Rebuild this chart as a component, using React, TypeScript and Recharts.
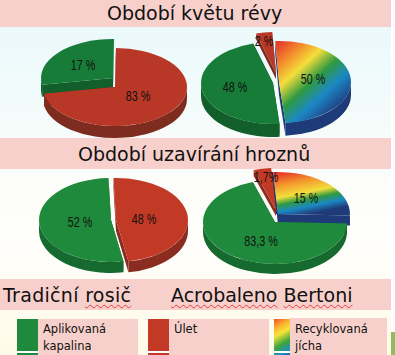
import React from "react";
import { PieChart, Pie } from "recharts";

// Printed labels, as they read in the picture.
const bloomTraditionalLabels = ["17 %", "83 %"];
const bloomBertoniLabels = ["50 %", "48 %", "2 %"];
const closureTraditionalLabels = ["48 %", "52 %"];
const closureBertoniLabels = ["15 %", "83,3 %", "1,7%"];

// The source artwork does not draw its slices to the printed numbers, so the
// slice sizes below are the shares as measured on the picture (in %).
const bloomTraditionalDrawn = [28, 72];
const bloomBertoniDrawn = [49.4, 47, 3.6];
const closureTraditionalDrawn = [47.8, 52.2];
const closureBertoniDrawn = [26.7, 69.4, 3.9];

const sliceNames = { green: "Aplikovaná kapalina", red: "Úlet", rainbow: "Recyklovaná jícha" };
const titles = ["Období květu révy", "Období uzavírání hroznů"];
const legendItems = ["Aplikovaná", "kapalina", "Úlet", "Recyklovaná", "jícha"];

const GREEN_A = "#177c38", GREEN_A_WALL = "#135f2c";
const GREEN_B = "#1f8a3c", GREEN_B_WALL = "#166a30";
const RED_A = "#b93726", RED_A_WALL = "#7f2c20";
const RED_B = "#c23a26", RED_B_WALL = "#8a2d20";
const NAVY_WALL = "#1f3a78";
const BAND = "#f8d0cb";
const LABEL_FONT = "'Liberation Sans',sans-serif";

type Style = { fill: string; wall: string; dx: number; dy: number; lx: number; ly: number; edge?: number; depth?: number };

const pies: { key: string; labels: string[]; drawn: number[]; kinds: string[]; cx: number; cy: number; start: number; depth: number; ry: number; styles: Style[] }[] = [
  {
    key: "a", labels: bloomTraditionalLabels, drawn: bloomTraditionalDrawn, kinds: ["green", "red"],
    cx: 115, cy: 87, start: 190, depth: 12, ry: 39,
    styles: [
      { fill: GREEN_A, wall: GREEN_A_WALL, dx: -2, dy: -9, lx: -30, ly: -13 },
      { fill: RED_A, wall: RED_A_WALL, dx: 0, dy: 0, lx: 23, ly: 9 },
    ],
  },
  {
    key: "b", labels: bloomBertoniLabels, drawn: bloomBertoniDrawn, kinds: ["rainbow", "green", "red"],
    cx: 275, cy: 82, start: 93, depth: 13, ry: 41,
    styles: [
      { fill: "url(#rainbowA)", wall: NAVY_WALL, dx: 4, dy: 0, lx: 34, ly: -3 },
      { fill: GREEN_A, wall: GREEN_A_WALL, dx: -2, dy: 1, lx: -38, ly: 4 },
      { fill: RED_A, wall: RED_A_WALL, dx: 1, dy: -9, lx: -12, ly: -32, depth: 6 },
    ],
  },
  {
    key: "c", labels: closureTraditionalLabels, drawn: closureTraditionalDrawn, kinds: ["red", "green"],
    cx: 113, cy: 220, start: 92, depth: 11, ry: 42,
    styles: [
      { fill: RED_B, wall: RED_B_WALL, dx: 3, dy: 0, lx: 28, ly: -1 },
      { fill: GREEN_B, wall: GREEN_B_WALL, dx: -2, dy: 0, lx: -31, ly: 2 },
    ],
  },
  {
    key: "d", labels: closureBertoniLabels, drawn: closureBertoniDrawn, kinds: ["rainbow", "green", "red"],
    cx: 275, cy: 222, start: 94, depth: 10, ry: 42,
    styles: [
      { fill: "url(#rainbowB)", wall: NAVY_WALL, dx: 3, dy: -8, lx: 28, ly: -16, edge: 2 },
      { fill: GREEN_B, wall: GREEN_B_WALL, dx: 0, dy: 0, lx: -14, ly: 19 },
      { fill: RED_B, wall: RED_B_WALL, dx: 1, dy: -12, lx: -10, ly: -33, depth: 6 },
    ],
  },
];

const RX = 72;

function makeShape(pie: (typeof pies)[number]) {
  return (props: any) => {
    const index = props.index ?? pie.drawn.indexOf(props.value);
    const st = pie.styles[index] ?? pie.styles[0];
    const cx = props.cx + st.dx;
    const cy = props.cy + st.dy;
    const rx = props.outerRadius;
    const ry = pie.ry;
    const d = st.depth ?? pie.depth;
    const hi = Math.max(props.startAngle, props.endAngle);
    const lo = Math.min(props.startAngle, props.endAngle);
    const pt = (deg: number, drop = 0): [number, number] => {
      const r = (deg * Math.PI) / 180;
      return [cx + rx * Math.cos(r), cy - ry * Math.sin(r) + drop];
    };
    const [x1, y1] = pt(hi);
    const [x2, y2] = pt(lo);
    const large = hi - lo > 180 ? 1 : 0;
    const top = `M${cx},${cy} L${x1},${y1} A${rx},${ry} 0 ${large} 1 ${x2},${y2} Z`;

    // Outer wall: the parts of the arc on the lower half of the ellipse.
    const walls: string[] = [];
    for (let k = -2; k <= 1; k++) {
      const a0 = Math.max(lo, 180 + 360 * k);
      const a1 = Math.min(hi, 360 + 360 * k);
      if (a1 > a0) {
        const [ax, ay] = pt(a1);
        const [bx, by] = pt(a0);
        const [cx2, cy2] = pt(a0, d);
        const [dx2, dy2] = pt(a1, d);
        walls.push(`M${ax},${ay} A${rx},${ry} 0 0 1 ${bx},${by} L${cx2},${cy2} A${rx},${ry} 0 0 0 ${dx2},${dy2} Z`);
      }
    }
    const cut = (x: number, y: number) => `M${cx},${cy} L${x},${y} L${x},${y + d} L${cx},${cy + d} Z`;
    const e = st.edge ?? 0;
    return (
      <g>
        {e > 0 && <path d={`M${cx},${cy} L${x1},${y1} L${x1 - e},${y1} L${cx - e},${cy} Z`} fill={st.wall} />}
        <path d={cut(x1, y1)} fill={st.wall} />
        <path d={cut(x2, y2)} fill={st.wall} />
        {walls.map((w, i) => <path key={i} d={w} fill={st.wall} />)}
        <path d={top} fill={st.fill} />
      </g>
    );
  };
}

function makeLabel(pie: (typeof pies)[number]) {
  return (props: any) => {
    const st = pie.styles[props.index];
    const x = pie.cx + st.dx + st.lx;
    const y = pie.cy + st.dy + st.ly;
    return (
      <text transform={`translate(${x},${y}) scale(0.74,1)`} x={0} y={0} textAnchor="middle" dominantBaseline="central"
        fontFamily={LABEL_FONT} fontSize={14.5} fill="#111">
        {pie.labels[props.index]}
      </text>
    );
  };
}

const box = (left: number, top: number, width: number, height: number, background: string): React.CSSProperties => ({
  position: "absolute", left, top, width, height, background,
});
const textStyle = (left: number, top: number, fontSize: number): React.CSSProperties => ({
  position: "absolute", left, top, fontSize, lineHeight: 1, whiteSpace: "nowrap", color: "#111", fontFamily: "'DejaVu Sans',sans-serif",
});
const wavy: React.CSSProperties = { textDecoration: "underline wavy #e04040 1px", textUnderlineOffset: 2 };
const RAINBOW_SWATCH = "linear-gradient(150deg,#f0502a 0%,#fbb02c 22%,#f8e43a 40%,#3aa53c 66%,#1d8fc8 88%,#1d5fa8 100%)";

export default function App() {
  return (
    <div style={{ position: "absolute", left: 0, top: 0, width: 395, height: 355, overflow: "hidden", background: "linear-gradient(180deg,#e9f9fc 0px,#eefafb 60px,#fbfdfa 170px,#fffefa 250px,#fffbe8 355px)" }}>
      <div style={box(391, 0, 4, 355, "#fff")} />
      <div style={box(391, 332, 4, 23, "#8fbf5a")} />
      <div style={box(0, 0, 391, 27, BAND)} />
      <div style={box(0, 138, 391, 31, BAND)} />
      <div style={box(0, 279, 391, 31, BAND)} />

      <div style={textStyle(107, 4, 19)}>{titles[0]}</div>
      <div style={textStyle(78, 145, 19)}>{titles[1]}</div>
      <div style={{ ...textStyle(3, 286, 19), letterSpacing: 0.3 }}>Tradiční <span style={wavy}>rosič</span></div>
      <div style={textStyle(171, 286, 19)}><span style={wavy}>Acrobaleno</span> <span style={wavy}>Bertoni</span></div>

      <div style={box(17, 319, 121, 36, BAND)} />
      <div style={box(148, 319, 121, 36, BAND)} />
      <div style={box(274, 319, 16, 36, RAINBOW_SWATCH)} />
      <div style={box(290, 318, 97, 37, BAND)} />
      <div style={box(17, 319, 21, 36, GREEN_B)} />
      <div style={box(148, 319, 21, 36, RED_B)} />
      <div style={box(17, 351, 21, 2, "#fff")} />
      <div style={box(148, 351, 21, 2, "#fff")} />
      <div style={box(274, 351, 16, 2, "#fff")} />
      <div style={textStyle(43, 324, 11.5)}>{legendItems[0]}</div>
      <div style={textStyle(43, 341, 11.5)}>{legendItems[1]}</div>
      <div style={textStyle(174, 324, 11.5)}>{legendItems[2]}</div>
      <div style={textStyle(295, 324, 11.5)}>{legendItems[3]}</div>
      <div style={textStyle(295, 341, 11.5)}>{legendItems[4]}</div>

      <div style={{ position: "absolute", left: 0, top: 0 }}>
        <PieChart width={395} height={355} margin={{ top: 0, right: 0, bottom: 0, left: 0 }}>
          <defs>
            <linearGradient id="rainbowA" gradientUnits="userSpaceOnUse" x1={277} y1={42} x2={344} y2={116}>
              <stop offset="0.03" stopColor="#e8412a" />
              <stop offset="0.2" stopColor="#f3922c" />
              <stop offset="0.35" stopColor="#f4de3c" />
              <stop offset="0.53" stopColor="#2f9a40" />
              <stop offset="0.7" stopColor="#1b88c4" />
              <stop offset="0.87" stopColor="#1f4a8c" />
              <stop offset="1" stopColor="#1f3a78" />
            </linearGradient>
            <linearGradient id="rainbowB" gradientUnits="userSpaceOnUse" x1={277} y1={170} x2={288} y2={224}>
              <stop offset="0.09" stopColor="#e8412a" />
              <stop offset="0.27" stopColor="#f3922c" />
              <stop offset="0.5" stopColor="#f4de3c" />
              <stop offset="0.63" stopColor="#2f9a40" />
              <stop offset="0.76" stopColor="#1b88c4" />
              <stop offset="0.9" stopColor="#1f3a78" />
            </linearGradient>
          </defs>
          {pies.map((pie) => (
            <Pie
              key={pie.key}
              data={pie.drawn.map((value, i) => ({ value, name: (sliceNames as any)[pie.kinds[i]] }))}
              dataKey="value"
              cx={pie.cx}
              cy={pie.cy}
              outerRadius={RX}
              innerRadius={0}
              startAngle={pie.start}
              endAngle={pie.start - 360}
              stroke="none"
              isAnimationActive={false}
              shape={makeShape(pie)}
              label={makeLabel(pie)}
              labelLine={false}
            />
          ))}
        </PieChart>
      </div>
    </div>
  );
}
